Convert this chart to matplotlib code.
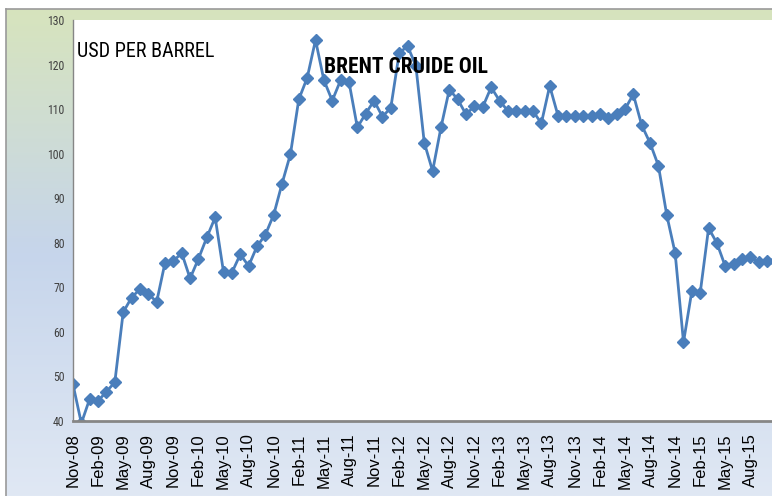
import numpy as np
import matplotlib
matplotlib.use("Agg")
import matplotlib.pyplot as plt
from matplotlib.colors import LinearSegmentedColormap

# monthly Brent prices, Nov-08 .. Nov-15 (USD per barrel)
prices = [48.2, 39.5, 45.0, 44.5, 46.6, 48.7, 64.4, 67.7, 69.6, 68.6, 66.7, 75.5,
          75.9, 77.7, 72.0, 76.4, 81.2, 85.7, 73.4, 73.3, 77.4, 74.8, 79.2, 81.8,
          86.3, 93.3, 99.9, 112.2, 117.0, 125.5, 116.5, 111.9, 116.5, 116.1, 105.9, 109.0,
          111.9, 108.3, 110.3, 122.5, 124.2, 119.7, 102.5, 96.1, 105.9, 114.4, 112.2, 108.8,
          110.7, 110.5, 114.9, 111.9, 109.6, 109.6, 109.6, 109.6, 106.8, 115.2, 108.5, 108.5,
          108.5, 108.5, 108.5, 108.9, 107.9, 109.0, 110.0, 113.3, 106.4, 102.4, 97.3, 86.2,
          77.7, 57.7, 69.2, 68.8, 83.3, 79.9, 74.7, 75.2, 76.4, 76.7, 75.7, 75.9,
          76.0]

tick_labels = ["Nov-08", "Feb-09", "May-09", "Aug-09", "Nov-09", "Feb-10", "May-10",
               "Aug-10", "Nov-10", "Feb-11", "May-11", "Aug-11", "Nov-11", "Feb-12",
               "May-12", "Aug-12", "Nov-12", "Feb-13", "May-13", "Aug-13", "Nov-13",
               "Feb-14", "May-14", "Aug-14", "Nov-14", "Feb-15", "May-15", "Aug-15"]
y_ticks = [40, 50, 60, 70, 80, 90, 100, 110, 120, 130]

NARROW = ["Liberation Sans Narrow", "Arial Narrow", "Roboto Condensed", "PT Sans Narrow",
          "Archivo Narrow", "IBM Plex Sans Condensed", "DejaVu Sans"]

W, H = 772, 496
fig = plt.figure(figsize=(W / 100, H / 100), dpi=100)
fig.patch.set_facecolor("white")

# gradient chart area background
bg = fig.add_axes([6 / W, 0, 1 - 6 / W, 1 - 9 / H])
cmap = LinearSegmentedColormap.from_list(
    "bg", [(0.0, "#d7e4bd"), (0.5, "#c6d5eb"), (1.0, "#e0e8f4")])
bg.imshow(np.linspace(0, 1, 256).reshape(-1, 1), cmap=cmap, aspect="auto",
          extent=[0, 1, 0, 1])
bg.set_xticks([])
bg.set_yticks([])
for side in ["right", "bottom"]:
    bg.spines[side].set_visible(False)
for side in ["left", "top"]:
    bg.spines[side].set_color("#9a9a9a")
    bg.spines[side].set_linewidth(1.2)

# plot area
ax = fig.add_axes([73 / W, (H - 421) / H, (W - 73) / W, (421 - 20) / H])
ax.set_facecolor("white")
x = np.arange(len(prices))
ax.plot(x, prices, color="#4a7ebb", linewidth=2.0, marker="D", markersize=6,
        markerfacecolor="#4a7ebb", markeredgecolor="#4a7ebb")

ax.set_ylim(40, 130)
ax.set_xlim(0, (W - 73) / 8.363)
ax.set_yticks(y_ticks)
ax.set_yticklabels([str(v) for v in y_ticks], family=NARROW, fontsize=8.5, color="#404040")
ax.set_xticks(x[::3][:len(tick_labels)])
ax.set_xticklabels(tick_labels, rotation=90, family="Liberation Sans", fontsize=12,
                   color="black")
ax.tick_params(axis="both", length=0)
ax.tick_params(axis="y", pad=6)
ax.tick_params(axis="x", pad=9)

for side in ["right", "top"]:
    ax.spines[side].set_visible(False)
ax.spines["left"].set_color("#868686")
ax.spines["left"].set_linewidth(1.0)
ax.spines["bottom"].set_color("#868686")
ax.spines["bottom"].set_linewidth(2.0)

fig.text(77 / W, (H - 57) / H, "USD PER BARREL", family=NARROW,
         fontsize=14.5, va="baseline", ha="left", color="black")
fig.text(324 / W, (H - 73) / H, "BRENT CRUIDE OIL", family=NARROW,
         fontsize=15.5, fontweight="bold", va="baseline", ha="left", color="black")

fig.savefig("out.png", dpi=100)
